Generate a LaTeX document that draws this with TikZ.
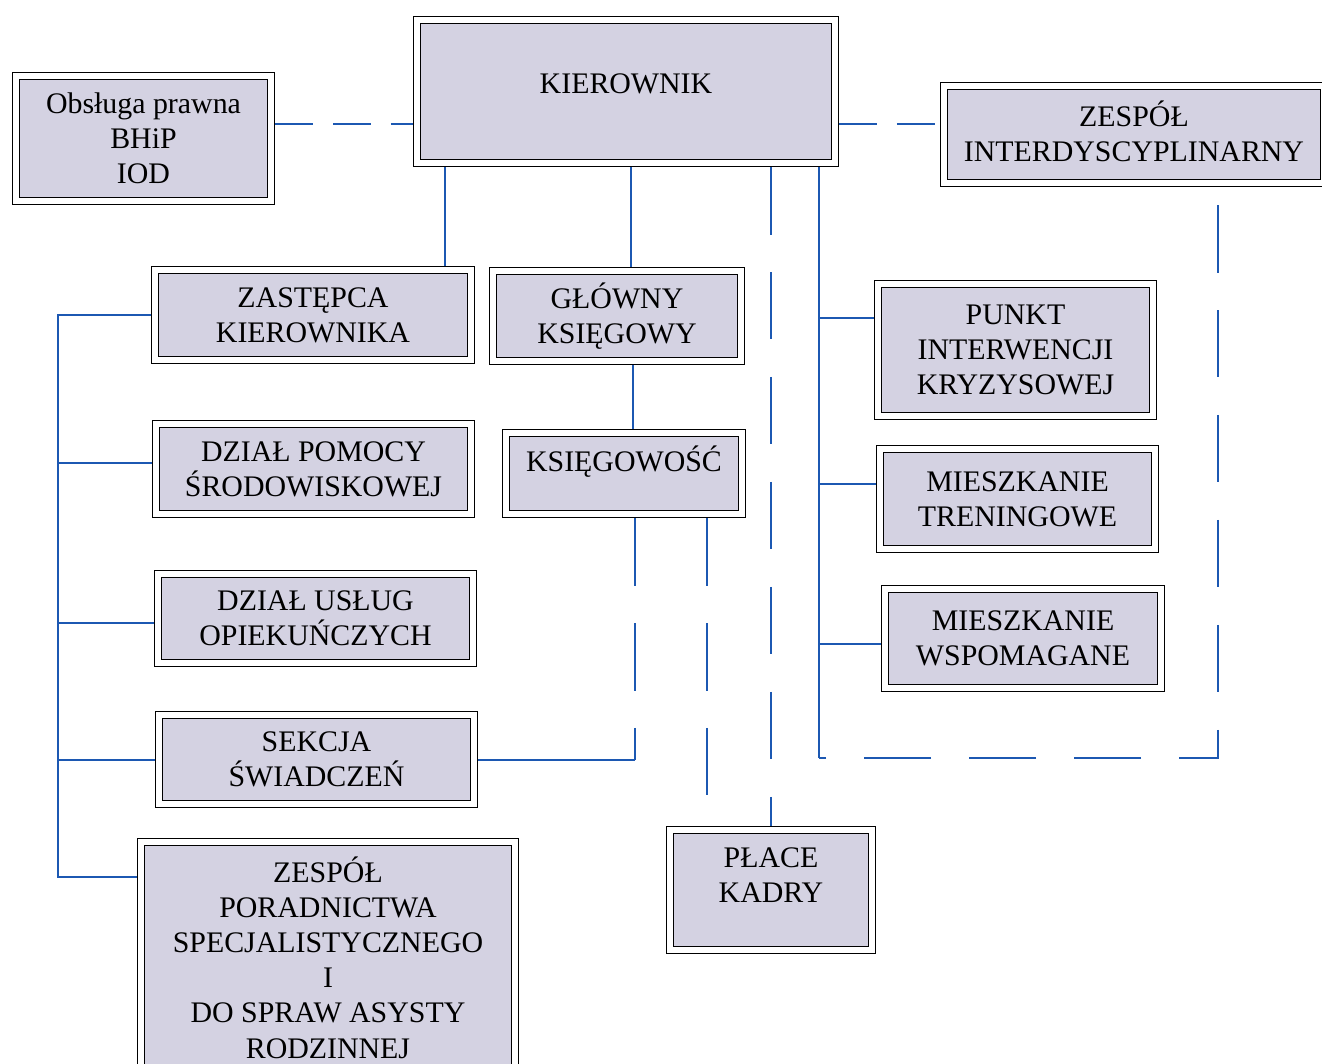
\documentclass[tikz,border=0pt]{standalone}
\usepackage{fontspec}
\setmainfont{Liberation Serif}
\usepackage{tikz}
\usetikzlibrary{positioning}

\definecolor{boxfill}{RGB}{212,210,226}
\definecolor{linkblue}{RGB}{28,88,178}

\begin{document}
\begin{tikzpicture}
    [x=0.02cm,y=-0.02cm,every node/.style={draw, double=white, double distance=3pt, line width=0.8pt, fill=boxfill, rectangle, align=center, inner sep=0pt, outer sep=2.3pt, font=\fontsize{17}{20}\selectfont},
     link/.style={draw=linkblue, line width=1.1pt},
     dashlink/.style={link, dash pattern=on 1.35cm off 0.75cm},
     dashshort/.style={link, dash pattern=on 0.76cm off 0.4cm}]
          \useasboundingbox (0,0) rectangle (1322,1064);
          \clip (0,0) rectangle (1322,1064);
          \fill[white] (0,0) rectangle (1322,1064);

          \node[minimum width=5.10cm, minimum height=2.50cm] (obs) at (143.5,138.5) {Obsługa prawna\\BHiP\\IOD};
          \node[minimum width=8.36cm, minimum height=2.86cm, text height=12pt, text depth=9.3pt] (kier) at (626,91.5) {KIEROWNIK};
          \node[minimum width=7.6cm, minimum height=1.94cm, text depth=4pt] (zesp) at (1134,134.5) {ZESPÓŁ\\INTERDYSCYPLINARNY};

          \node[minimum width=6.32cm, minimum height=1.80cm] (zast) at (313,315) {ZASTĘPCA\\KIEROWNIKA};
          \node[minimum width=4.96cm, minimum height=1.80cm] (glow) at (617,316) {GŁÓWNY\\KSIĘGOWY};
          \node[minimum width=4.72cm, minimum height=1.62cm, text height=12pt, text depth=13.8pt] (ksieg) at (624,473.5) {KSIĘGOWOŚĆ};
          \node[minimum width=6.30cm, minimum height=1.80cm] (pomoc) at (313.5,469) {DZIAŁ POMOCY\\ŚRODOWISKOWEJ};
          \node[minimum width=6.30cm, minimum height=1.78cm] (uslug) at (315.5,618.5) {DZIAŁ USŁUG\\OPIEKUŃCZYCH};
          \node[minimum width=6.30cm, minimum height=1.78cm] (sekcja) at (316.5,759.5) {SEKCJA\\ŚWIADCZEŃ};
          \node[minimum width=7.48cm, minimum height=4.62cm] (porad) at (328,957.5) {ZESPÓŁ\\PORADNICTWA\\SPECJALISTYCZNEGO\\I\\DO SPRAW ASYSTY\\RODZINNEJ};
          \node[minimum width=4.04cm, minimum height=2.40cm, text depth=17pt] (place) at (771,890) {PŁACE\\KADRY};

          \node[minimum width=5.50cm, minimum height=2.64cm] (punkt) at (1015.5,350) {PUNKT\\INTERWENCJI\\KRYZYSOWEJ};
          \node[minimum width=5.50cm, minimum height=2.00cm] (trening) at (1017.5,499) {MIESZKANIE\\TRENINGOWE};
          \node[minimum width=5.52cm, minimum height=1.98cm] (wspom) at (1023,638.5) {MIESZKANIE\\WSPOMAGANE};

          % corner points of the connectors
          \coordinate (ol) at ([yshift=.29cm]obs.east);
          \coordinate (zl) at ([yshift=.21cm]zesp.west);
          \coordinate (zastin) at ([xshift=2.64cm]zast.north);
          \coordinate (glowin) at ([xshift=.28cm]glow.north);
          \coordinate (glowout) at ([xshift=.32cm]glow.south);
          \coordinate (placein) at ([xshift=-1.28cm]place.north);
          \coordinate (sp) at (58,877);
          \coordinate (cL) at (819,758);
          \coordinate (cR) at (1218,758);
          \coordinate (ks) at (635,760);

          \draw[dashshort] (ol) -- (ol -| kier.west);
          \draw[dashshort] (zl -| kier.east) -- (zl);

          \foreach \to in {zastin, glowin}
            \draw[link] (\to |- kier.south) -- (\to);
          \draw[link] (glowout) -- (glowout |- ksieg.north);

          % left column
          \draw[link] (zast.west) -| (sp) -- (sp -| porad.west);
          \foreach \n/\dy in {pomoc/.12cm, uslug/-.09cm, sekcja/-.01cm}
            \draw[link] ([yshift=\dy]\n.west) coordinate (b) -- (b -| sp);

          % right column
          \draw[link] (cL |- kier.south) -- (cL);
          \foreach \n/\dy in {punkt/.64cm, trening/.3cm, wspom/-.11cm}
            \draw[link] ([yshift=\dy]\n.west) coordinate (b) -- (b -| cL);
          \draw[dashlink, dash phase=1.74cm] (cR |- zesp.south) -- (cR) -- (cL);

          % accounting
          \draw[dashlink] (ks |- ksieg.south) -- (ks);
          \draw[link] (ks) -- (ks -| sekcja.east);
          \draw[dashlink] (placein |- ksieg.south) -- (placein);
          \draw[dashlink] (place.north |- kier.south) -- (place.north);
        \end{tikzpicture}
\end{document}
